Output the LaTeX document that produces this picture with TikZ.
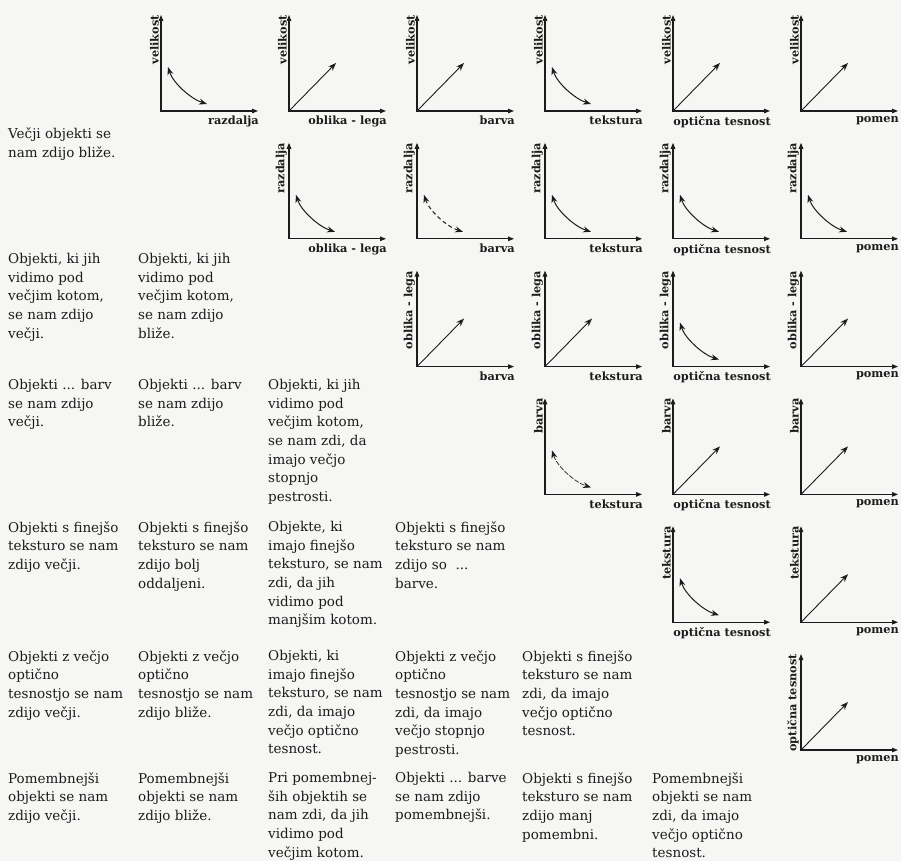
\documentclass[tikz,border=0pt]{standalone}
\usepackage{fontspec}
\setmainfont{DejaVu Serif}
\usetikzlibrary{arrows.meta}
\definecolor{paper}{RGB}{246,246,244}
\definecolor{ink}{RGB}{28,28,28}
\tikzset{
  axisline/.style={draw=ink, line width=1.1pt, {Triangle[length=6pt,width=4.5pt]}-{Triangle[length=6pt,width=4.5pt]}},
  diag/.style={draw=ink, line width=0.9pt, -{Stealth[length=8pt,width=6pt]}},
  curv/.style={draw=ink, line width=1pt, {Stealth[length=8pt,width=6pt]}-{Stealth[length=8pt,width=6pt]}},
  curvdash/.style={curv, dash pattern=on 4pt off 3pt},
  curvthin/.style={curv, line width=0.7pt, dash pattern=on 5pt off 1.5pt},
  xlab/.style={font=\bfseries\fontsize{11.3}{13}\selectfont, text=ink, inner sep=0pt, anchor=north east},
  ylab/.style={font=\bfseries\fontsize{11.3}{13}\selectfont, text=ink, inner sep=0pt, rotate=90, anchor=south east},
  cell/.style={font=\fontsize{13.5}{18.7}\selectfont, text=ink, inner sep=0pt, align=left, anchor=north west},
}
\newcommand\paxes[4]{%
  \pgfmathsetmacro\ox{161+128*(#2-1)}%
  \pgfmathsetmacro\oy{111+127.8*(#1-1)}%
  \begin{scope}[shift={(\ox,\oy)}]
    \coordinate (o#1#2) at (0,0);
    \coordinate (t#1#2) at (0,-96);
    \coordinate (r#1#2) at (97,0);
    \coordinate (p#1#2) at (47,-48);
    \coordinate (cs#1#2) at (7,-44);
    \coordinate (ca#1#2) at (12,-28);
    \coordinate (cb#1#2) at (30,-12);
    \coordinate (ce#1#2) at (46,-7);
    \node[xlab] (xl#1#2) at (98,5) {#3};
    \node[ylab] (yl#1#2) at (-2,-96) {#4};
  \end{scope}
  \draw[axisline] (t#1#2) -- (o#1#2) -- (r#1#2);}
\newcommand\pdiag[4]{\paxes{#1}{#2}{#3}{#4}\draw[diag] (o#1#2) -- (p#1#2);}
\newcommand\pcurve[5]{\paxes{#2}{#3}{#4}{#5}\draw[#1] (cs#2#3) .. controls (ca#2#3) and (cb#2#3) .. (ce#2#3);}
\begin{document}
\begin{tikzpicture}[x=1pt,y=-1pt]
\fill[paper] (0,0) rectangle (901,861);
\useasboundingbox (0,0) rectangle (901,861);
% row 1
\pcurve{curv}{1}{1}{razdalja}{velikost}
\pdiag{1}{2}{oblika - lega}{velikost}
\pdiag{1}{3}{barva}{velikost}
\pcurve{curv}{1}{4}{tekstura}{velikost}
\pdiag{1}{5}{optična tesnost}{velikost}
\pdiag{1}{6}{pomen}{velikost}
% row 2
\pcurve{curv}{2}{2}{oblika - lega}{razdalja}
\pcurve{curvdash}{2}{3}{barva}{razdalja}
\pcurve{curv}{2}{4}{tekstura}{razdalja}
\pcurve{curv}{2}{5}{optična tesnost}{razdalja}
\pcurve{curv}{2}{6}{pomen}{razdalja}
% row 3
\pdiag{3}{3}{barva}{oblika - lega}
\pdiag{3}{4}{tekstura}{oblika - lega}
\pcurve{curv}{3}{5}{optična tesnost}{oblika - lega}
\pdiag{3}{6}{pomen}{oblika - lega}
% row 4
\pcurve{curvthin}{4}{4}{tekstura}{barva}
\pdiag{4}{5}{optična tesnost}{barva}
\pdiag{4}{6}{pomen}{barva}
% row 5
\pcurve{curv}{5}{5}{optična tesnost}{tekstura}
\pdiag{5}{6}{pomen}{tekstura}
% row 6
\pdiag{6}{6}{pomen}{optična tesnost}
% text cells
\node[cell] (s11) at (8,128) {Večji objekti se\\nam zdijo bliže.};
\node[cell] (s21) at (8,253) {Objekti, ki jih\\vidimo pod\\večjim kotom,\\se nam zdijo\\večji.};
\node[cell] (s22) at (138,253) {Objekti, ki jih\\vidimo pod\\večjim kotom,\\se nam zdijo\\bliže.};
\node[cell] (s31) at (8,379) {Objekti ... barv\\se nam zdijo\\večji.};
\node[cell] (s32) at (138,379) {Objekti ... barv\\se nam zdijo\\bliže.};
\node[cell] (s33) at (268,379) {Objekti, ki jih\\vidimo pod\\večjim kotom,\\se nam zdi, da\\imajo večjo\\stopnjo\\pestrosti.};
\node[cell] (s41) at (8,521) {Objekti s finejšo\\teksturo se nam\\zdijo večji.};
\node[cell] (s42) at (138,521) {Objekti s finejšo\\teksturo se nam\\zdijo bolj\\oddaljeni.};
\node[cell] (s43) at (268,521) {Objekte, ki\\imajo finejšo\\teksturo, se nam\\zdi, da jih\\vidimo pod\\manjšim kotom.};
\node[cell] (s44) at (395,521) {Objekti s finejšo\\teksturo se nam\\zdijo so \ ...\\barve.};
\node[cell] (s51) at (8,650) {Objekti z večjo\\optično\\tesnostjo se nam\\zdijo večji.};
\node[cell] (s52) at (138,650) {Objekti z večjo\\optično\\tesnostjo se nam\\zdijo bliže.};
\node[cell] (s53) at (268,650) {Objekti, ki\\imajo finejšo\\teksturo, se nam\\zdi, da imajo\\večjo optično\\tesnost.};
\node[cell] (s54) at (395,650) {Objekti z večjo\\optično\\tesnostjo se nam\\zdi, da imajo\\večjo stopnjo\\pestrosti.};
\node[cell] (s55) at (522,650) {Objekti s finejšo\\teksturo se nam\\zdi, da imajo\\večjo optično\\tesnost.};
\node[cell] (s61) at (8,772) {Pomembnejši\\objekti se nam\\zdijo večji.};
\node[cell] (s62) at (138,772) {Pomembnejši\\objekti se nam\\zdijo bliže.};
\node[cell] (s63) at (268,772) {Pri pomembnej-\\ših objektih se\\nam zdi, da jih\\vidimo pod\\večjim kotom.};
\node[cell] (s64) at (395,772) {Objekti ... barve\\se nam zdijo\\pomembnejši.};
\node[cell] (s65) at (522,772) {Objekti s finejšo\\teksturo se nam\\zdijo manj\\pomembni.};
\node[cell] (s66) at (652,772) {Pomembnejši\\objekti se nam\\zdi, da imajo\\večjo optično\\tesnost.};
\end{tikzpicture}
\end{document}
